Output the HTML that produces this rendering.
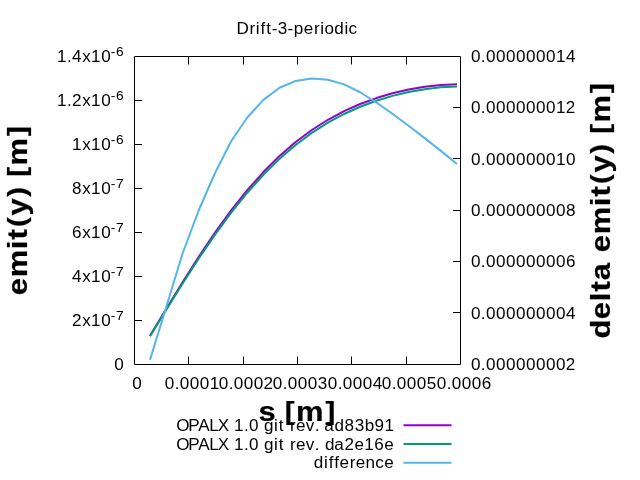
<!DOCTYPE html>
<html><head><meta charset="utf-8"><title>Drift-3-periodic</title><style>html,body{margin:0;padding:0;background:#fff}svg{display:block;will-change:transform}text{font-variant-ligatures:none;font-kerning:none}text{font-family:"Liberation Sans",sans-serif;font-size:16.45px;fill:#000}.b{font-weight:bold;font-size:27.4px}.sup{font-size:13.45px}.br{font-size:26.05px}</style></head><body>
<svg width="640" height="480" viewBox="0 0 640 480"><rect width="640" height="480" fill="#fff"/>
<text class="n" transform="scale(1.04,1)" x="227.44 239.96 245.87 250.43 255.90 261.27 267.10 276.56 282.46 291.99 301.95 307.86 311.94 321.41 331.24 335.12" y="33.75">Drift-3-periodic</text>
<text class="n" transform="scale(1.04,1)" x="54.85 64.38 69.35 79.06 87.54 97.24" y="62.00">1.4x10</text>
<text class="sup" transform="scale(1.025,1)" x="108.11 113.20" y="56.20">-6</text>
<text class="n" transform="scale(1.04,1)" x="54.85 64.38 69.15 79.06 87.54 97.24" y="106.00">1.2x10</text>
<text class="sup" transform="scale(1.025,1)" x="108.11 113.20" y="100.20">-6</text>
<text class="n" transform="scale(1.04,1)" x="69.27 79.06 87.54 97.24" y="150.00">1x10</text>
<text class="sup" transform="scale(1.025,1)" x="108.11 113.20" y="144.20">-6</text>
<text class="n" transform="scale(1.04,1)" x="69.35 79.06 87.54 97.24" y="194.00">8x10</text>
<text class="sup" transform="scale(1.025,1)" x="108.11 113.18" y="188.20">-7</text>
<text class="n" transform="scale(1.04,1)" x="69.35 79.06 87.54 97.24" y="238.00">6x10</text>
<text class="sup" transform="scale(1.025,1)" x="108.11 113.18" y="232.20">-7</text>
<text class="n" transform="scale(1.04,1)" x="69.35 79.06 87.54 97.24" y="282.00">4x10</text>
<text class="sup" transform="scale(1.025,1)" x="108.11 113.18" y="276.20">-7</text>
<text class="n" transform="scale(1.04,1)" x="69.15 79.06 87.54 97.24" y="326.00">2x10</text>
<text class="sup" transform="scale(1.025,1)" x="108.11 113.18" y="320.20">-7</text>
<text class="n" transform="scale(1.04,1)" x="109.74" y="370.00">0</text>
<text class="n" transform="scale(1.04,1)" x="452.91 462.36 467.34 476.95 486.57 496.18 505.80 515.41 525.03 534.56 544.26" y="62.00">0.000000014</text>
<text class="n" transform="scale(1.04,1)" x="452.91 462.36 467.34 476.95 486.57 496.18 505.80 515.41 525.03 534.56 544.06" y="113.33">0.000000012</text>
<text class="n" transform="scale(1.04,1)" x="452.91 462.36 467.34 476.95 486.57 496.18 505.80 515.41 525.03 534.56 544.26" y="164.67">0.000000010</text>
<text class="n" transform="scale(1.04,1)" x="452.91 462.36 467.34 476.95 486.57 496.18 505.80 515.41 525.03 534.64 544.26" y="216.00">0.000000008</text>
<text class="n" transform="scale(1.04,1)" x="452.91 462.36 467.34 476.95 486.57 496.18 505.80 515.41 525.03 534.64 544.26" y="267.33">0.000000006</text>
<text class="n" transform="scale(1.04,1)" x="452.91 462.36 467.34 476.95 486.57 496.18 505.80 515.41 525.03 534.64 544.26" y="318.67">0.000000004</text>
<text class="n" transform="scale(1.04,1)" x="452.91 462.36 467.34 476.95 486.57 496.18 505.80 515.41 525.03 534.64 544.06" y="370.00">0.000000002</text>
<text class="n" transform="scale(1.04,1)" x="127.24" y="388.60">0</text>
<text class="n" transform="scale(1.04,1)" x="158.49 167.94 172.91 182.53 192.14 201.67" y="388.60">0.0001</text>
<text class="n" transform="scale(1.04,1)" x="210.41 219.86 224.84 234.45 244.07 253.48" y="388.60">0.0002</text>
<text class="n" transform="scale(1.04,1)" x="262.34 271.79 276.76 286.37 295.99 305.63" y="388.60">0.0003</text>
<text class="n" transform="scale(1.04,1)" x="315.22 324.67 329.64 339.26 348.87 358.49" y="388.60">0.0004</text>
<text class="n" transform="scale(1.04,1)" x="367.14 376.59 381.57 391.18 400.80 410.35" y="388.60">0.0005</text>
<text class="n" transform="scale(1.04,1)" x="420.03 429.48 434.45 444.07 453.68 463.30" y="388.60">0.0006</text>
<text class="b" transform="scale(1.13,1)" x="228.74 243.66 252.02 262.05 288.14" y="420.75 420.75 419.70 420.75 419.70" stroke="#000" stroke-width="0.225">s <tspan class="br">[</tspan>m<tspan class="br">]</tspan></text>
<g transform="translate(26.9,210.5) rotate(-90)"><text class="b" transform="scale(1.13,1)" x="-74.97 -59.18 -34.26 -25.58 -14.56 -4.45 12.24 21.54 29.90 39.93 66.02" y="0.25 0.25 0.25 0.25 -0.80 0.25 -0.80 0.25 -0.80 0.25 -0.80" stroke="#000" stroke-width="0.225">emit<tspan class="br">(</tspan>y<tspan class="br">)</tspan> <tspan class="br">[</tspan>m<tspan class="br">]</tspan></text></g>
<g transform="translate(609.7,210.5) rotate(-90)"><text class="b" transform="scale(1.13,1)" x="-113.32 -96.21 -80.28 -71.60 -61.63 -44.83 -36.91 -21.13 3.79 12.47 23.50 33.60 50.30 59.59 67.95 77.98 104.07" y="0.25 0.25 0.25 0.25 0.25 0.25 0.25 0.25 0.25 0.25 -0.80 0.25 -0.80 0.25 -0.80 0.25 -0.80" stroke="#000" stroke-width="0.225">delta emit<tspan class="br">(</tspan>y<tspan class="br">)</tspan> <tspan class="br">[</tspan>m<tspan class="br">]</tspan></text></g>
<text class="n" transform="scale(1.04,1)" x="169.47 181.11 190.60 201.19 209.35 220.11 224.98 234.52 239.49 248.95 253.82 263.51 268.09 273.48 278.84 284.53 294.09 302.75 307.56 311.76 321.69 331.38 341.02 350.70 360.17 369.75" y="430.75">OPALX 1.0 git rev. ad83b91</text>
<path d="M403.5,425.25H451.5" stroke="#9400D3" stroke-width="2" fill="none"/>
<text class="n" transform="scale(1.04,1)" x="169.47 181.11 190.60 201.19 209.35 220.11 224.99 234.53 239.50 248.96 253.83 263.52 268.09 273.49 278.85 284.54 294.10 302.76 307.57 312.44 321.37 331.19 340.89 350.23 359.94 369.43" y="449.50">OPALX 1.0 git rev. da2e16e</text>
<path d="M403.5,444.0H451.5" stroke="#009E73" stroke-width="2" fill="none"/>
<text class="n" transform="scale(1.04,1)" x="301.77 311.54 316.08 321.44 326.38 336.28 342.02 351.54 360.79 369.43" y="468.25">difference</text>
<path d="M403.5,462.75H451.5" stroke="#56B4E9" stroke-width="2" fill="none"/>
<path d="M134.5,56.5H460.5V364.5H134.5Z" stroke="#000" stroke-width="1" fill="none"/>
<path d="M188.5,364.5v-8M188.5,56.5v8M243.5,364.5v-8M243.5,56.5v8M297.5,364.5v-8M297.5,56.5v8M351.5,364.5v-8M351.5,56.5v8M406.5,364.5v-8M406.5,56.5v8M134.5,100.5h7.5M134.5,144.5h7.5M134.5,188.5h7.5M134.5,232.5h7.5M134.5,276.5h7.5M134.5,320.5h7.5M460.5,107.5h-7.5M460.5,158.5h-7.5M460.5,210.5h-7.5M460.5,261.5h-7.5M460.5,312.5h-7.5" stroke="#000" stroke-width="1" fill="none"/>
<path d="M150.00,335.83 L166.63,308.29 L182.76,281.90 L198.89,256.51 L215.02,232.57 L231.15,210.38 L247.28,190.18 L263.41,172.06 L279.54,156.04 L295.67,142.06 L311.80,130.02 L327.93,119.78 L344.06,111.15 L360.19,103.98 L376.32,98.08 L392.45,93.31 L408.58,89.56 L424.71,86.79 L440.84,85.02 L456.97,84.37" stroke="#9400D3" stroke-width="2" fill="none" stroke-linejoin="round"/>
<path d="M150.00,336.31 L166.63,309.24 L182.76,283.29 L198.89,258.28 L215.02,234.65 L231.15,212.73 L247.28,192.73 L263.41,174.77 L279.54,158.85 L295.67,144.93 L311.80,132.92 L327.93,122.66 L344.06,113.99 L360.19,106.75 L376.32,100.76 L392.45,95.90 L408.58,92.05 L424.71,89.17 L440.84,87.29 L456.97,86.53" stroke="#009E73" stroke-width="2" fill="none" stroke-linejoin="round"/>
<path d="M150.00,359.88 L166.63,305.80 L182.76,253.00 L198.89,210.00 L215.02,173.00 L231.15,141.25 L247.28,117.50 L263.41,99.90 L279.54,87.75 L295.67,80.90 L311.80,78.40 L327.93,79.75 L344.06,84.40 L360.19,92.25 L376.32,102.50 L392.45,113.80 L408.58,125.70 L424.71,138.10 L440.84,150.90 L456.97,164.00" stroke="#56B4E9" stroke-width="2" fill="none" stroke-linejoin="round"/>

</svg></body></html>
